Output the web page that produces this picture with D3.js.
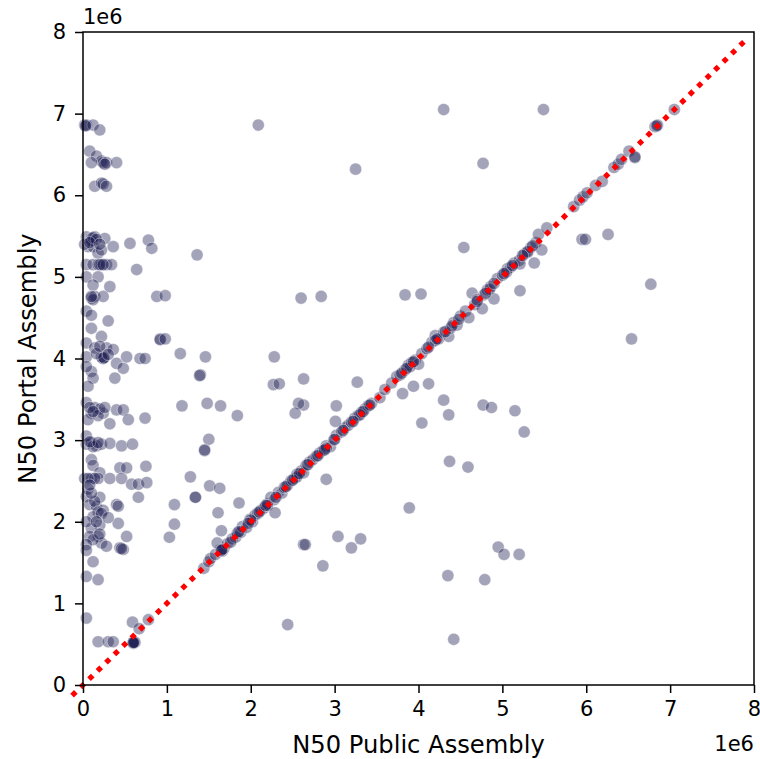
<!DOCTYPE html>
<html lang="en">
  <head>
    <meta charset="utf-8" />
    <title>N50 Public vs Portal Assembly</title>
    <script src="https://d3js.org/d3.v7.min.js"></script>
    <style>
      body { margin: 0; background: #ffffff; }
      text { font-family: "DejaVu Sans", sans-serif; fill: #000000; }
    </style>
  </head>
  <body>
    <div id="chart"></div>
  <script>
    var width = 760,
        height = 759;
    var margin = {top: 32, right: 6, bottom: 74, left: 83};

    // values are in units of 1e6 (matplotlib offset text)
    var xTicks = [0, 1, 2, 3, 4, 5, 6, 7, 8];
    var yTicks = [0, 1, 2, 3, 4, 5, 6, 7, 8];
    var offsetLabel = "1e6";

    // [public N50, portal N50] - assemblies close to zero on the public side
    var leftStrip = [
      [0.02,6.86],[0.04,6.86],[0.12,6.86],[0.2,6.8],[0.03,6.85],
      [0.08,6.54],[0.16,6.48],[0.22,6.42],[0.24,6.4],[0.28,6.4],[0.4,6.4],[0.1,6.4],[0.26,6.38],
      [0.14,6.11],[0.22,6.15],[0.24,6.14],[0.28,6.11],
      [0.04,5.49],[0.1,5.47],[0.14,5.49],[0.26,5.47],[0.06,5.37],[0.12,5.37],[0.18,5.29],[0.22,5.33],
      [0.36,5.37],[0.56,5.41],[0.78,5.45],[0.82,5.35],[1.36,5.27],[0.1,5.44],[0.02,5.4],
      [0.12,5.48],[0.16,5.46],[0.08,5.42],[0.2,5.4],
      [0.04,5.15],[0.12,5.15],[0.18,5.15],[0.22,5.15],[0.28,5.15],[0.34,5.15],[0.2,5.15],[0.24,5.15],
      [0.64,5.09],[0.04,5.0],[0.18,5.0],[0.12,4.9],[0.32,4.88],
      [0.1,4.74],[0.14,4.76],[0.24,4.76],[0.88,4.76],[0.98,4.77],[0.04,4.58],[0.1,4.53],[0.3,4.46],
      [0.1,4.37],[0.04,4.19],[0.12,4.72],[0.1,4.76],
      [0.22,4.27],[0.14,4.13],[0.28,4.13],[0.36,4.11],[0.24,4.0],[0.24,4.0],[0.22,4.02],[0.4,3.94],
      [0.48,3.88],[0.52,4.02],[0.68,4.0],[0.74,4.0],[0.92,4.24],[0.92,4.23],[0.98,4.24],[1.16,4.06],
      [1.46,4.02],[1.4,3.8],[0.38,3.76],[0.1,3.84],[0.12,3.76],[0.04,4.02],[0.04,3.9],[0.16,4.06],[0.06,3.66],
      [0.25,4.01],[0.2,4.15],[0.3,4.05],
      [0.04,3.46],[0.1,3.33],[0.24,3.33],[0.32,3.2],[0.4,3.37],[0.48,3.37],[0.54,3.25],[0.74,3.27],
      [0.14,3.4],[0.2,3.38],[0.06,3.25],[0.18,3.3],[0.08,3.4],[0.12,3.35],[0.26,3.4],
      [0.04,2.95],[0.1,2.97],[0.16,2.93],[0.22,2.95],[0.32,2.96],[0.46,2.93],[0.59,2.95],[0.12,2.92],[0.04,3.05],
      [0.08,2.98],[0.18,2.97],
      [0.1,2.76],[0.12,2.69],[0.44,2.66],[0.52,2.66],[0.75,2.68],[0.2,2.6],
      [0.02,2.53],[0.1,2.53],[0.18,2.53],[0.32,2.53],[0.46,2.53],[0.14,2.53],[0.58,2.46],[0.66,2.46],
      [0.76,2.48],[0.66,2.3],[0.06,2.53],
      [0.04,2.31],[0.08,2.21],[0.16,2.19],[0.24,2.14],[0.4,2.21],[0.42,2.19],[0.06,2.4],[0.2,2.3],[0.14,2.25],
      [0.1,2.35],[0.18,2.12],[0.08,2.45],
      [0.12,2.06],[0.2,1.96],[0.1,1.92],[0.42,1.98],[0.22,2.1],[0.04,2.0],[0.3,2.05],[0.16,2.0],
      [0.08,1.82],[0.18,1.82],[0.22,1.74],[0.28,1.7],[0.44,1.68],[0.48,1.66],[0.52,1.82],[0.12,1.78],[0.04,1.72],
      [0.46,1.67],[0.2,1.85],
      [0.04,1.65],[0.12,1.51],[0.04,1.33],[0.18,1.29],[0.04,0.82],
      [0.18,0.53],[0.3,0.53],[0.36,0.53],[0.59,0.77],[0.67,0.69],[0.78,0.8]
    ];

    // assemblies where both N50 values agree
    var diagonal = [
      [0.6,0.52],[0.61,0.53],[0.62,0.52],[0.6,0.51],[0.61,0.52],[0.6,0.52],
      [1.44,1.43],[1.5,1.51],[1.52,1.55],[1.58,1.6],[1.64,1.66],[1.66,1.64],[1.68,1.67],[1.6,1.74],
      [1.72,1.73],[1.78,1.79],[1.82,1.81],[1.84,1.86],[1.88,1.87],[1.9,1.94],[1.95,1.93],[1.99,2.03],
      [2.02,2.0],[2.05,2.08],[2.08,2.1],[2.12,2.14],[2.16,2.17],[2.2,2.22],[2.24,2.3],[2.28,2.27],
      [2.33,2.36],[2.37,2.35],[2.4,2.42],[2.44,2.45],[2.48,2.5],[2.52,2.53],[2.55,2.58],[2.6,2.62],
      [2.63,2.6],[2.66,2.69],[2.7,2.73],[2.74,2.76],[2.78,2.8],[2.82,2.84],[2.86,2.87],[2.9,2.93],
      [2.95,2.92],[2.99,3.0],[3.02,3.06],[3.08,3.1],[3.12,3.15],[3.16,3.18],[3.2,3.22],[3.24,3.27],
      [3.28,3.3],[3.32,3.34],[3.36,3.38],[3.4,3.42],[3.44,3.45],[3.54,3.52],[3.6,3.62],[3.68,3.7],
      [3.74,3.78],[3.78,3.8],[3.84,3.86],[3.88,3.92],[3.92,3.95],[3.96,3.98],[4.0,3.93],[4.04,4.06],
      [4.1,4.12],[4.16,4.2],[4.2,4.28],[4.24,4.24],[4.3,4.32],[4.36,4.27],[4.38,4.37],[4.42,4.44],
      [4.46,4.41],[4.5,4.52],[4.56,4.58],[4.6,4.5],[4.64,4.8],[4.67,4.66],[4.7,4.72],[4.76,4.61],
      [4.78,4.78],[4.82,4.84],[4.86,4.88],[4.9,4.73],[4.94,4.98],[5.0,5.02],[5.06,5.1],[5.1,5.12],
      [5.14,5.17],[5.2,5.2],[5.21,5.16],[5.26,5.28],[5.3,5.3],[5.34,5.36],[5.38,5.17],[5.4,5.42],
      [5.43,5.52],[5.47,5.33],[5.53,5.6],[5.85,5.86],[5.92,5.94],[5.96,5.98],[6.01,6.03],[6.11,6.12],
      [6.19,6.17],[6.33,6.34],[6.38,6.38],[6.42,6.44],[6.51,6.54],[6.58,6.46],[6.82,6.84],[6.85,6.86],
      [7.05,7.05],
      [1.66,1.66],[2.0,2.02],[2.2,2.2],[2.55,2.55],[2.9,2.9],[3.3,3.31],[3.9,3.9],[4.2,4.22],
      [4.85,4.85],[5.3,5.31],[5.05,5.06],[6.84,6.85],[6.58,6.47],
      [1.65,1.65],[1.76,1.75],[1.86,1.88],[1.97,1.98],[2.1,2.12],[2.18,2.2],[2.3,2.3],[2.42,2.43],
      [2.5,2.51],[2.58,2.59],[2.68,2.7],[2.8,2.81],[2.88,2.88],[3.0,3.01],[3.1,3.12],[3.22,3.23],
      [3.34,3.35],[3.42,3.43],[3.8,3.82],[3.86,3.88],[3.94,3.96],[4.12,4.14],[4.22,4.24],[4.32,4.33],
      [4.4,4.4],[4.48,4.48],[4.7,4.7],[4.8,4.8],[4.9,4.92],[5.02,5.04],[5.12,5.14],[5.24,5.26],[5.36,5.38]
    ];

    // assemblies with different N50 values
    var scattered = [
      [2.09,6.86],[3.25,6.32],[4.3,7.05],[5.49,7.05],[4.77,6.39],[4.54,5.36],[2.6,4.74],[2.84,4.76],
      [3.84,4.78],[4.03,4.79],[5.21,4.83],[5.95,5.46],[5.99,5.46],[6.26,5.52],[6.77,4.91],[6.54,4.24],
      [5.26,3.1],[2.63,3.75],[2.63,3.43],[2.57,3.45],[2.53,3.33],[3.02,3.42],[3.01,3.23],[3.27,3.71],
      [2.9,2.52],[2.63,1.72],[2.65,1.72],[3.04,1.82],[3.2,1.68],[3.31,1.79],[2.86,1.46],[3.89,2.17],
      [4.37,2.74],[4.59,2.67],[4.04,3.21],[4.3,3.49],[4.36,3.31],[4.12,3.69],[3.94,3.66],[3.81,3.57],
      [4.77,3.43],[4.87,3.4],[5.15,3.36],[4.95,1.69],[5.02,1.6],[5.2,1.6],[4.35,1.34],[4.79,1.29],
      [4.42,0.56],
      [1.18,3.42],[1.48,3.45],[1.64,3.42],[1.84,3.3],[1.39,3.79],[1.5,3.01],[1.45,2.87],[1.45,2.88],
      [1.28,2.55],[1.34,2.3],[1.34,2.3],[1.51,2.44],[1.63,2.41],[1.09,2.21],[1.09,1.97],[1.03,1.81],
      [1.61,2.11],[1.86,2.23],[2.29,2.11],[1.65,1.89],[2.44,0.74],[2.27,3.68],[2.34,3.69],[2.28,4.02]
    ];

    var identityLine = [[-0.13, -0.13], [7.9, 7.9]];

    var points = leftStrip.concat(diagonal, scattered);

    var svg = d3.select("#chart")
                .append("svg")
                .attr("width", width)
                .attr("height", height);

    var x = d3.scaleLinear()
              .domain([0, 8])
              .range([margin.left, width - margin.right]);
    var y = d3.scaleLinear()
              .domain([0, 8])
              .range([height - margin.bottom, margin.top]);

    // scatter points
    svg.append("g")
       .selectAll("circle")
       .data(points)
       .enter().append("circle")
       .attr("cx", function(d) { return x(d[0]); })
       .attr("cy", function(d) { return y(d[1]); })
       .attr("r", 6.1)
       .attr("fill", "#191950")
       .attr("fill-opacity", 0.4)
       .attr("stroke", "#ffffff")
       .attr("stroke-opacity", 0.4)
       .attr("stroke-width", 1);

    // y = x reference line
    var line = d3.line()
                 .x(function(d) { return x(d[0]); })
                 .y(function(d) { return y(d[1]); });

    svg.append("path")
       .datum(identityLine)
       .attr("d", line)
       .attr("fill", "none")
       .attr("stroke", "#ff0000")
       .attr("stroke-width", 5.2)
       .attr("stroke-dasharray", "5.2,6.6");

    // axes
    var xAxis = d3.axisBottom(x)
                  .tickValues(xTicks)
                  .tickFormat(d3.format("d"))
                  .tickSize(8)
                  .tickPadding(8);
    var yAxis = d3.axisLeft(y)
                  .tickValues(yTicks)
                  .tickFormat(d3.format("d"))
                  .tickSize(8)
                  .tickPadding(9);

    var gx = svg.append("g")
                .attr("transform", "translate(0," + (height - margin.bottom) + ")")
                .call(xAxis);
    var gy = svg.append("g")
                .attr("transform", "translate(" + margin.left + ",0)")
                .call(yAxis);

    [gx, gy].forEach(function(g) {
      g.select(".domain").remove();
      g.selectAll(".tick line").attr("stroke", "#000").attr("stroke-width", 1.5);
      g.selectAll(".tick text")
       .attr("fill", "#000")
       .style("font-size", "21px")
       .style("font-family", "DejaVu Sans");
    });

    // frame
    svg.append("rect")
       .attr("x", margin.left)
       .attr("y", margin.top)
       .attr("width", width - margin.left - margin.right)
       .attr("height", height - margin.top - margin.bottom)
       .attr("fill", "none")
       .attr("stroke", "#000")
       .attr("stroke-width", 1.5);

    // offset texts
    svg.append("text")
       .attr("x", margin.left)
       .attr("y", 24)
       .style("font-size", "21px")
       .text(offsetLabel);
    svg.append("text")
       .attr("x", width - margin.right)
       .attr("y", 751)
       .attr("text-anchor", "end")
       .style("font-size", "21px")
       .text(offsetLabel);

    // axis labels
    svg.append("text")
       .attr("x", (margin.left + width - margin.right) / 2)
       .attr("y", 753)
       .attr("text-anchor", "middle")
       .style("font-size", "24.2px")
       .text("N50 Public Assembly");
    svg.append("text")
       .attr("transform", "translate(36," + ((margin.top + height - margin.bottom) / 2) + ") rotate(-90)")
       .attr("text-anchor", "middle")
       .style("font-size", "24.2px")
       .text("N50 Portal Assembly");
  </script>
  </body>
</html>
